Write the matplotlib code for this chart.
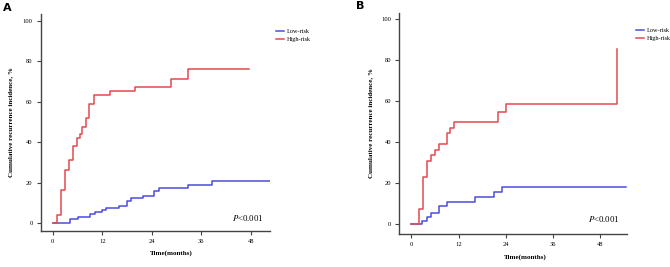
import numpy as np
import matplotlib.pyplot as plt
from matplotlib.lines import Line2D

plt.rcParams['mathtext.fontset'] = 'stix'

# cumulative incidence step curves (months, %)
a_high_t = [0, 1.1, 2.0, 3.0, 4.0, 5.0, 6.0, 6.5, 7.0, 8.0, 8.9, 10.0, 14.0, 19.9, 28.8, 32.8, 47.7]
a_high_y = [0, 4.0, 16.6, 26.1, 31.4, 38.3, 41.8, 43.8, 47.6, 51.8, 59.0, 63.2, 65.5, 67.4, 71.2, 76.1, 76.1]
a_low_t = [0, 1.0, 4.1, 6.1, 9.0, 10.2, 12.0, 13.0, 16.0, 17.9, 18.9, 21.8, 24.6, 25.7, 32.9, 38.7, 52.7]
a_low_y = [0, 0.3, 1.8, 2.8, 4.4, 5.4, 6.4, 7.5, 8.7, 10.8, 12.5, 13.6, 15.8, 17.1, 18.6, 21.0, 21.0]

b_high_t = [0, 1.9, 2.9, 3.9, 5.0, 6.0, 7.0, 9.0, 9.9, 10.9, 22.1, 24.0, 52.3]
b_high_y = [0, 7.3, 22.9, 30.7, 33.7, 36.3, 38.9, 44.3, 47.0, 49.8, 54.5, 58.5, 85.2]
b_low_t = [0, 2.8, 3.9, 4.9, 7.0, 9.1, 16.2, 21.1, 23.1, 54.5]
b_low_y = [0, 1.5, 3.2, 5.2, 8.9, 10.9, 13.1, 15.5, 17.9, 17.9]

xticks = [0, 12, 24, 36, 48]
yticks = [0, 20, 40, 60, 80, 100]
labels = ['Low-risk', 'High-risk']

blue = '#4b4bdc'
red = '#e24a4f'
serif = ['Liberation Serif', 'DejaVu Serif']

fig = plt.figure(figsize=(6.7, 2.67), dpi=100)


def panel(rect, low_t, low_y, high_t, high_y, xlim, ylim, xlab_x, ylab_x, leg_anchor, p_y):
    ax = fig.add_axes(rect)
    ax.step(low_t, low_y, where='post', color=blue, lw=1.1)
    ax.step(high_t, high_y, where='post', color=red, lw=1.1)
    ax.set_xlim(*xlim)
    ax.set_ylim(*ylim)
    ax.set_xticks(xticks)
    ax.set_yticks(yticks)
    for s in ['top', 'right']:
        ax.spines[s].set_visible(False)
    for s in ['left', 'bottom']:
        ax.spines[s].set_color('#444444')
        ax.spines[s].set_linewidth(1.0)
    ax.tick_params(length=3, width=0.8, color='#444444', labelsize=4.7, pad=3)
    for lab in ax.get_xticklabels() + ax.get_yticklabels():
        lab.set_family(serif)
    ax.set_xlabel('Time(months)', family=serif, fontsize=5, fontweight='bold')
    ax.set_ylabel('Cumulative recurrence incidence, %', family=serif, fontsize=5, fontweight='bold')
    ax.xaxis.set_label_coords(xlab_x, -0.09)
    ax.yaxis.set_label_coords(ylab_x, 0.5)
    handles = [Line2D([], [], color=blue, lw=1.1), Line2D([], [], color=red, lw=1.1)]
    ax.legend(handles, labels, loc='upper left', bbox_to_anchor=leg_anchor, frameon=False,
              prop={'family': serif, 'size': 4.5}, handlelength=1.3, handletextpad=0.4,
              labelspacing=0.45, borderaxespad=0)
    ax.text(0.97, p_y, r'$P$<0.001', transform=ax.transAxes, ha='right', va='center',
            family=serif, fontsize=6.3)
    return ax


panel([0.0612, 0.1348, 0.3418, 0.8128], a_low_t, a_low_y, a_high_t, a_high_y,
      (-2.84, 52.7), (-3.9, 103.3), 0.568, -0.124, (1.015, 0.945), 0.058)
panel([0.596, 0.1236, 0.3394, 0.8274], b_low_t, b_low_y, b_high_t, b_high_y,
      (-3.05, 54.7), (-4.9, 102.9), 0.555, -0.116, (1.03, 0.945), 0.07)

fig.text(0.004, 0.99, 'A', fontsize=8, fontweight='bold', va='top', ha='left')
fig.text(0.532, 0.995, 'B', fontsize=8, fontweight='bold', va='top', ha='left')

plt.savefig('out.png', dpi=100)
